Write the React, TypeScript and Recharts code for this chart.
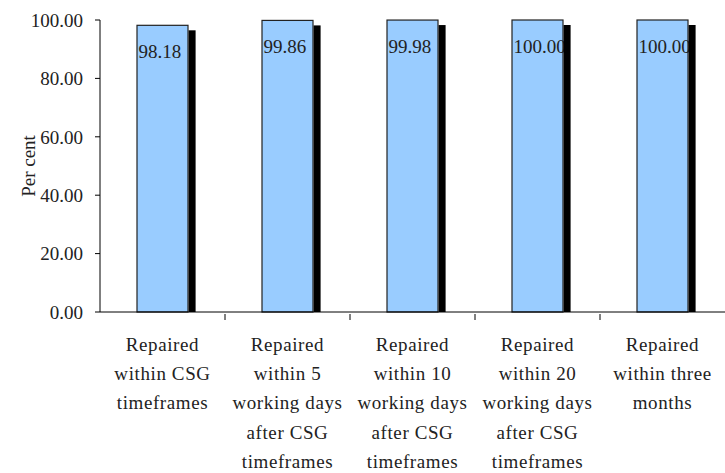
import React from 'react';
import { BarChart, Bar, XAxis, YAxis, LabelList } from 'recharts';

const categories = [
  'Repaired\nwithin CSG\ntimeframes',
  'Repaired\nwithin 5\nworking days\nafter CSG\ntimeframes',
  'Repaired\nwithin 10\nworking days\nafter CSG\ntimeframes',
  'Repaired\nwithin 20\nworking days\nafter CSG\ntimeframes',
  'Repaired\nwithin three\nmonths',
];
const values = [98.18, 99.86, 99.98, 100.0, 100.0];
const yTicks = [0, 20, 40, 60, 80, 100];

const data = categories.map((c, i) => ({ name: c, value: values[i] }));

const FONT = '"Liberation Serif", "Times New Roman", serif';
const FS = 19;

const XTick = (props: any) => {
  const { x, y, payload, index } = props;
  const lines = String(payload.value).split('\n');
  const half = 62.5;
  return (
    <g>
      {index < categories.length - 1 && (
        <line x1={x + half} x2={x + half} y1={y - 6} y2={y} stroke="#000" strokeWidth={1} />
      )}
      <text x={x} y={y} textAnchor="middle" fontFamily={FONT} fontSize={FS} fill="#222" letterSpacing={0.6}>
        {lines.map((l, i) => (
          <tspan key={i} x={x} dy={i === 0 ? 31 : 29.2}>
            {l}
          </tspan>
        ))}
      </text>
    </g>
  );
};

const BarShape = (props: any) => {
  const { x, y, width, height } = props;
  return <rect x={x} y={y} width={width} height={height} fill="#99CCFF" stroke="#222" strokeWidth={1.2} />;
};

const BarLabel = (props: any) => {
  const { x, y, width, height, value } = props;
  return (
    <g>
      <text x={x + 1.5} y={y + 33} textAnchor="start" fontFamily={FONT} fontSize={FS} fill="#222">
        {Number(value).toFixed(2)}
      </text>
      <rect x={x + width + 0.6} y={y + 5} width={7} height={height - 5} fill="#000" />
    </g>
  );
};

export default function App() {
  return (
    <div style={{ position: 'absolute', left: 0, top: 0, width: 725, height: 473, background: '#fff' }}>
      <BarChart width={725} height={473} data={data} margin={{ top: 20, right: 0, left: 40, bottom: 0 }}>
        <XAxis
          dataKey="name"
          tick={<XTick />}
          tickLine={false}
          axisLine={{ stroke: '#000', strokeWidth: 1 }}
          height={161}
          interval={0}
        />
        <YAxis
          domain={[0, 100]}
          ticks={yTicks}
          tickFormatter={(v: number) => v.toFixed(2)}
          width={60}
          tickSize={5}
          tickMargin={12}
          tickLine={{ stroke: '#000' }}
          axisLine={{ stroke: '#000', strokeWidth: 1 }}
          tick={{ fontFamily: FONT, fontSize: FS, fill: '#222' }}
          label={{
            value: 'Per cent',
            angle: -90,
            position: 'insideLeft',
            offset: -12,
            style: { fontFamily: FONT, fontSize: FS, fill: '#222', textAnchor: 'middle' },
          }}
        />
        <Bar dataKey="value" barSize={51} shape={<BarShape />} isAnimationActive={false}>
          <LabelList dataKey="value" content={<BarLabel />} />
        </Bar>
      </BarChart>
    </div>
  );
}
